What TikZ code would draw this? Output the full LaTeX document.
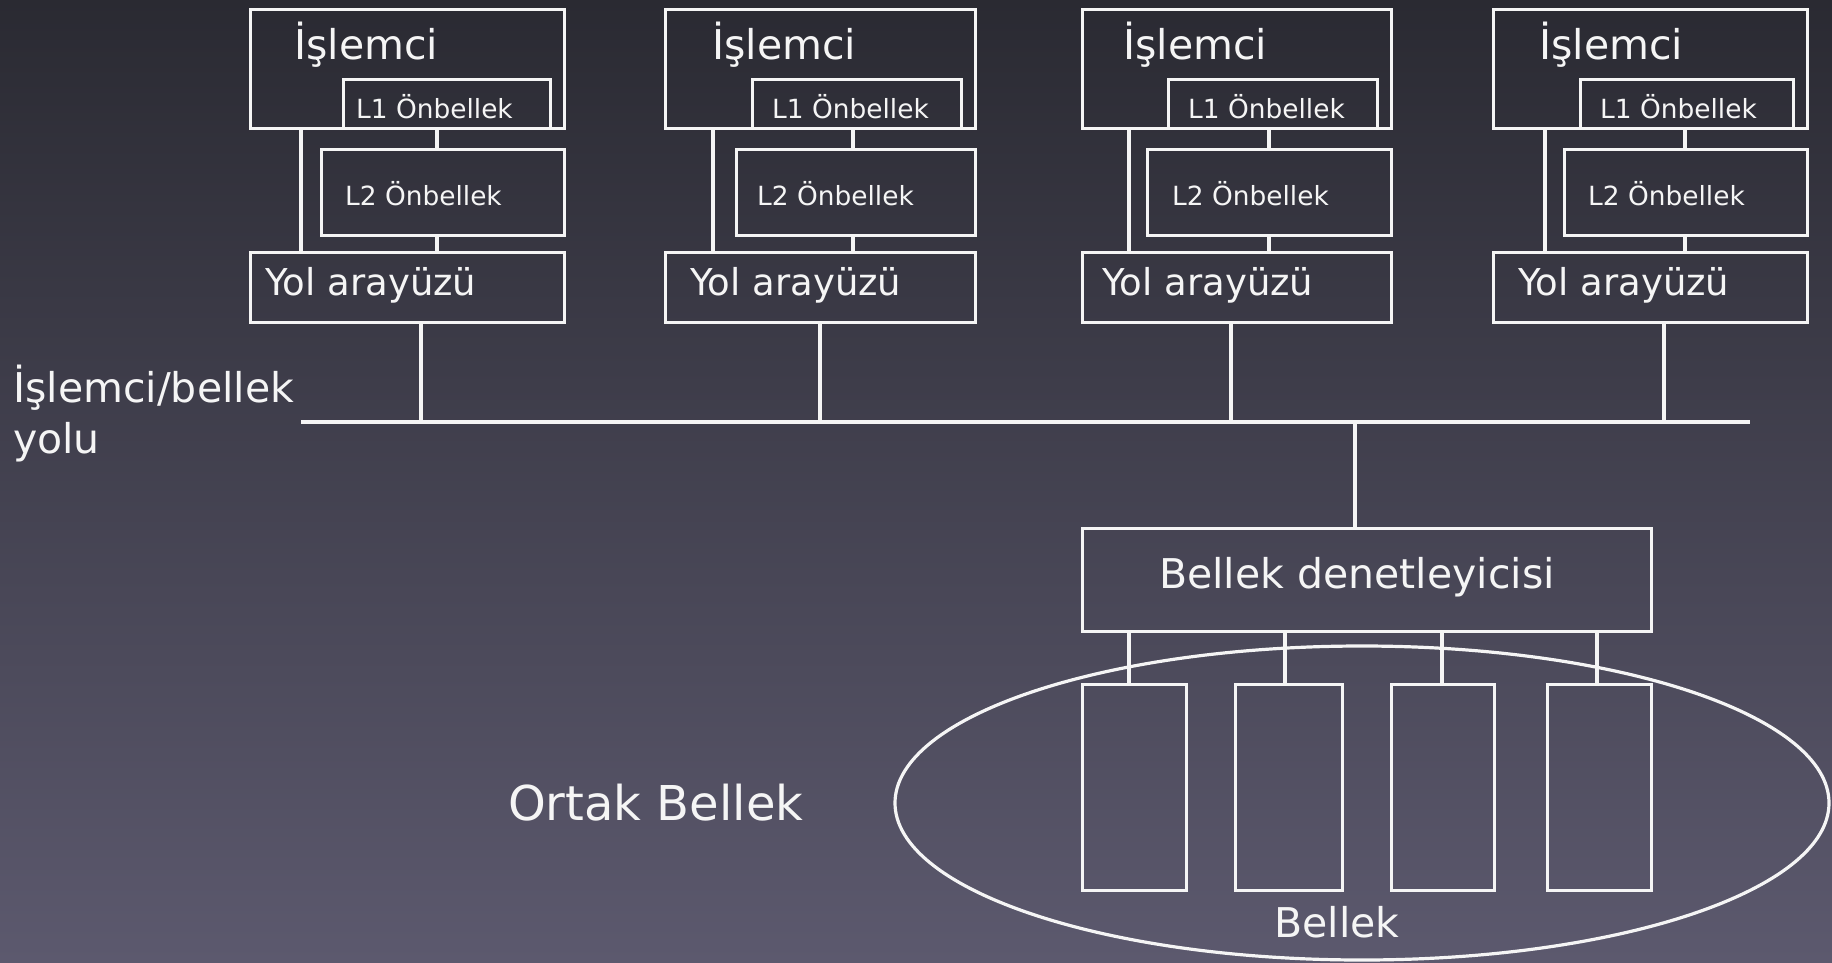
\documentclass[tikz,border=0pt]{standalone}
\usepackage{fontspec}
\setmainfont{DejaVu Sans}
\definecolor{bgtop}{RGB}{42,42,50}
\definecolor{bgbot}{RGB}{92,89,110}
\definecolor{fg}{RGB}{245,245,245}
\tikzset{
  box/.style={draw=fg, line width=3.2pt, inner sep=0pt, anchor=north west},
  wire/.style={draw=fg, line width=3.2pt},
  big/.style={text=fg, inner sep=0pt, anchor=base west, font=\fontsize{41}{51}\selectfont},
  mid/.style={text=fg, inner sep=0pt, anchor=base west, font=\fontsize{37}{44}\selectfont},
  small/.style={text=fg, inner sep=0pt, anchor=base west, font=\fontsize{26.4}{32}\selectfont},
}
\begin{document}
\begin{tikzpicture}[x=1pt,y=-1pt]
\useasboundingbox (0,0) rectangle (1832,962);
\shade[top color=bgtop, bottom color=bgbot] (0,0) rectangle (1832,962);

% processor columns
\foreach \i/\L/\R/\la/\lb/\lx/\cx/\dx/\tp/\tl/\tm/\ty in {
  1/249/563/342/320/301/437/421/294/356/345/265,
  2/664/974/751/735/713/853/820/712/772/757/690,
  3/1081/1390/1167/1146/1129/1269/1231/1123/1188/1172/1102,
  4/1492/1806/1579/1563/1545/1685/1664/1539/1600/1588/1518}{
  \pgfmathsetmacro\W{\R-\L}
  \pgfmathsetmacro\Wa{\R-14-\la}
  \pgfmathsetmacro\Wb{\R-\lb}
  \node[box, minimum width=\W pt, minimum height=119pt] (cpu\i) at (\L,8) {};
  \node[box, minimum width=\Wa pt, minimum height=49pt] (lone\i) at (\la,78) {};
  \node[box, minimum width=\Wb pt, minimum height=86pt] (ltwo\i) at (\lb,148) {};
  \node[box, minimum width=\W pt, minimum height=70pt] (yol\i) at (\L,251) {};
  \node[big] (tcpu\i) at (\tp,59) {İşlemci};
  \node[small] (tlone\i) at (\tl,118) {L1 Önbellek};
  \node[small] (tltwo\i) at (\tm,205) {L2 Önbellek};
  \node[mid] (tyol\i) at (\ty,295) {Yol arayüzü};
  \draw[wire] (cpu\i.south -| \lx,0) -- (yol\i.north -| \lx,0);
  \draw[wire] (lone\i.south -| \cx,0) -- (ltwo\i.north -| \cx,0);
  \draw[wire] (ltwo\i.south -| \cx,0) -- (yol\i.north -| \cx,0);
  \coordinate (drop\i) at (\dx,422);
  \draw[wire] (yol\i.south -| drop\i) -- (drop\i);
}

% bus
\coordinate (busL) at (301,422);
\coordinate (busR) at (1750,422);
\draw[wire] (busL) -- (busR);
\node[big] (buslbl) at (13,402) {İşlemci/bellek};
\node[big] (buslbl2) at (13,453) {yolu};

% memory controller
\node[box, minimum width=569pt, minimum height=103pt] (ctrl) at (1081,527) {};
\node[big, anchor=base] (tctrl) at (1357,588) {Bellek denetleyicisi};
\coordinate (busC) at (1355,422);
\draw[wire] (busC) -- (ctrl.north -| busC);

% memory ellipse
\draw[wire] (1362,803) ellipse [x radius=467, y radius=157];

% memory banks
\foreach \j/\a/\b/\c in {1/1081/1185/1129, 2/1234/1341/1285, 3/1390/1493/1442, 4/1546/1650/1597}{
  \pgfmathsetmacro\Wm{\b-\a}
  \node[box, minimum width=\Wm pt, minimum height=206pt] (bank\j) at (\a,683) {};
  \draw[wire] (ctrl.south -| \c,0) -- (bank\j.north -| \c,0);
}
\node[big, anchor=base] (tmem) at (1337,937) {Bellek};
\node[text=fg, inner sep=0pt, anchor=base west, font=\fontsize{48}{58}\selectfont] (ortak) at (508,820) {Ortak Bellek};
\end{tikzpicture}
\end{document}
